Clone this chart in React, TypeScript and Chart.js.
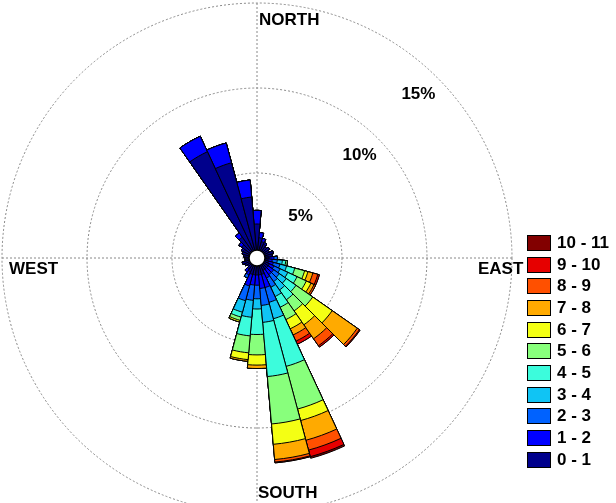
import React, { useEffect, useRef } from "react";
import { Chart, registerables } from "chart.js";
Chart.register(...registerables);

const DIRECTIONS = Array.from({ length: 36 }, (_, i) => `${i * 10}°`);
const BAND_LABELS = ["0 - 1", "1 - 2", "2 - 3", "3 - 4", "4 - 5", "5 - 6", "6 - 7", "7 - 8", "8 - 9", "9 - 10", "10 - 11"];
const BAND_COLORS = ["#00008c", "#0000ff", "#0062ff", "#10c4f4", "#3cfcdc", "#88ff7c", "#f4ff14", "#ffaa00", "#ff5000", "#e60000", "#820000"];

const z = 0;
const b0 = [2.0,1.2,1.0,0.9,0.8,0.9,0.8,1.0,0.9,0.7,0.6,0.7,0.8,0.8,0.8,0.8,1.0,1.0,1.0,1.0,1.0,0.9,0.8,0.7,0.8,0.9,0.7,0.7,0.8,0.9,0.9,1.1,1.5,6.9,5.8,3.6];
const b1 = [0.8,0.3,0.2,0.1,z,z,z,z,z,0.3,0.3,0.3,0.3,0.4,0.4,0.5,0.8,0.8,0.6,0.6,0.7,0.2,0.2,z,z,z,z,z,z,z,0.1,0.2,0.3,1.0,1.2,1.0];
const b2 = [z,z,z,z,z,z,z,z,z,0.2,0.3,0.4,0.4,0.4,0.5,0.6,0.9,1.0,0.8,0.9,0.9,0.2,z,z,z,z,z,z,z,z,z,z,z,z,z,z];
const b3 = [z,z,z,z,z,z,z,z,z,z,0.3,0.4,0.5,0.5,0.6,0.6,1.0,1.0,0.6,1.0,0.7,z,z,z,z,z,z,z,z,z,z,z,z,z,z,z];
const b4 = [z,z,z,z,z,z,z,z,z,z,0.2,0.5,0.6,0.7,0.7,0.7,2.9,3.2,1.5,1.1,0.3,z,z,z,z,z,z,z,z,z,z,z,z,z,z,z];
const b5 = [z,z,z,z,z,z,z,z,z,z,0.1,0.6,0.6,1.2,0.8,0.8,2.6,2.8,1.2,1.0,0.2,z,z,z,z,z,z,z,z,z,z,z,z,z,z,z];
const b6 = [z,z,z,z,z,z,z,z,z,z,z,0.2,0.3,1.4,1.0,0.6,0.7,1.2,0.6,0.4,0.1,z,z,z,z,z,z,z,z,z,z,z,z,z,z,z];
const b7 = [z,z,z,z,z,z,z,z,z,z,z,0.3,0.2,1.8,1.0,0.4,1.2,0.9,0.2,0.1,z,z,z,z,z,z,z,z,z,z,z,z,z,z,z,z];
const b8 = [z,z,z,z,z,z,z,z,z,z,z,0.3,0.1,0.15,0.5,0.4,0.6,0.15,z,z,z,z,z,z,z,z,z,z,z,z,z,z,z,z,z,z];
const b9 = [z,z,z,z,z,z,z,z,z,z,z,0.1,z,0.05,0.1,0.2,0.4,0.05,z,z,z,z,z,z,z,z,z,z,z,z,z,z,z,z,z,z];
const b10 = [z,z,z,z,z,z,z,z,z,z,z,z,z,z,z,z,0.1,z,z,z,z,z,z,z,z,z,z,z,z,z,z,z,z,z,z,z];
const BANDS = [b0, b1, b2, b3, b4, b5, b6, b7, b8, b9, b10];
const RINGS = [5, 10, 15];

const FONT = "bold 17px 'Liberation Sans', Arial, sans-serif";

const decor = {
  id: "decor",
  beforeDatasetsDraw(chart: any) {
    const s = chart.scales.r;
    const { ctx } = chart;
    const cx = s.xCenter, cy = s.yCenter, R = s.drawingArea;
    ctx.save();
    ctx.strokeStyle = "#888";
    ctx.lineWidth = 1;
    ctx.setLineDash([2, 2]);
    ctx.beginPath();
    ctx.moveTo(cx - R, cy); ctx.lineTo(cx + R, cy);
    ctx.moveTo(cx, cy - R); ctx.lineTo(cx, cy + R);
    ctx.stroke();
    ctx.restore();
  },
  afterDatasetsDraw(chart: any) {
    const s = chart.scales.r;
    const { ctx } = chart;
    const cx = s.xCenter, cy = s.yCenter;
    ctx.save();
    ctx.beginPath();
    ctx.arc(cx, cy, 8, 0, Math.PI * 2);
    ctx.fillStyle = "#fff";
    ctx.fill();
    ctx.strokeStyle = "#000";
    ctx.lineWidth = 1.5;
    ctx.stroke();
    ctx.fillStyle = "#000";
    ctx.font = FONT;
    ctx.textBaseline = "middle";
    ctx.textAlign = "left";
    ctx.fillText("NORTH", cx + 2, 20);
    ctx.fillText("WEST", 9, cy + 11);
    ctx.fillText("EAST", 478, cy + 11);
    ctx.fillText("SOUTH", cx + 1, 493);
    RINGS.forEach((v) => {
      const r = s.getDistanceFromCenterForValue(v) - 22;
      const a = -Math.PI / 4 - 0.02;
      ctx.textAlign = "center";
      ctx.fillText(`${v}%`, cx + r * Math.cos(a), cy + r * Math.sin(a) + 4);
    });
    ctx.restore();
  },
};

export default function App() {
  const ref = useRef<HTMLCanvasElement>(null);
  useEffect(() => {
    const cum: number[][] = [];
    BANDS.forEach((band, k) => {
      cum.push(band.map((v, i) => (k === 0 ? v : cum[k - 1][i] + v)));
    });
    const chart = new Chart(ref.current!, {
      type: "polarArea",
      data: {
        labels: DIRECTIONS,
        datasets: cum.map((d, k) => ({
          label: BAND_LABELS[k],
          data: d,
          backgroundColor: BAND_COLORS[k],
          borderColor: "#000",
          borderWidth: 1,
        })),
      },
      options: {
        animation: false,
        responsive: false,
        layout: { padding: { left: 2, right: 104, top: 3, bottom: 3 } },
        plugins: { legend: { display: false }, tooltip: { enabled: false } },
        scales: {
          r: {
            startAngle: -5,
            min: 0,
            max: 15,
            ticks: { display: false, stepSize: 5 },
            grid: { color: "#888", lineWidth: 1 },
            border: { dash: [2, 2] },
            angleLines: { display: false },
            pointLabels: { display: false },
          },
        },
      },
      plugins: [decor],
    });
    return () => chart.destroy();
  }, []);
  return (
    <div style={{ position: "absolute", left: 0, top: 0, width: 616, height: 503, overflow: "hidden", background: "#fff" }}>
      <canvas ref={ref} width={616} height={516} style={{ position: "absolute", left: 0, top: 0 }} />
      <div style={{ position: "absolute", left: 527, top: 232, fontFamily: "'Liberation Sans', Arial, sans-serif", fontWeight: "bold", fontSize: 17 }}>
        {BAND_LABELS.slice().reverse().map((l, i) => (
          <div key={l} style={{ display: "flex", alignItems: "center", height: 21.7 }}>
            <div style={{ width: 22, height: 14, background: BAND_COLORS[10 - i], border: "1px solid #000", marginRight: 6 }} />
            <span>{l}</span>
          </div>
        ))}
      </div>
    </div>
  );
}
